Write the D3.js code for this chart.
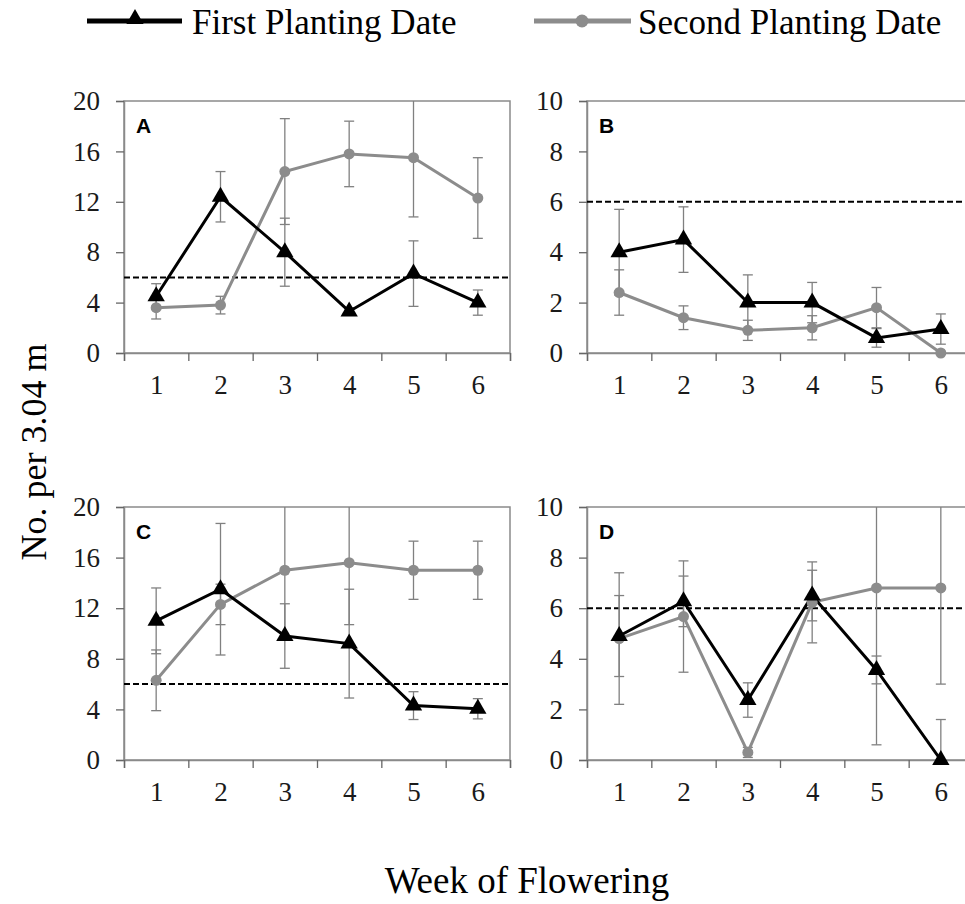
<!DOCTYPE html>
<html>
<head>
<meta charset="utf-8">
<script src="https://cdn.jsdelivr.net/npm/d3@7"></script>
<style>
  body { margin: 0; background: #fff; }
  svg { display: block; }
</style>
</head>
<body>
<svg width="965" height="904"></svg>
<script>
// weeks on the x axis
var weeks = [1, 2, 3, 4, 5, 6];

// panel A
var aFirst = [4.5, 12.4, 8.0, 3.3, 6.3, 4.0];
var aFirstErr = [1.0, 2.0, 2.7, 0.3, 2.6, 1.0];
var aSecond = [3.6, 3.8, 14.4, 15.8, 15.5, 12.3];
var aSecondErr = [0.9, 0.7, 4.2, 2.6, 4.7, 3.2];

// panel B
var bFirst = [4.0, 4.5, 2.0, 2.0, 0.6, 0.95];
var bFirstErr = [1.7, 1.3, 1.1, 0.8, 0.37, 0.6];
var bSecond = [2.4, 1.4, 0.9, 1.0, 1.8, 0];
var bSecondErr = [0.9, 0.47, 0.4, 0.48, 0.8, 0];

// panel C
var cFirst = [11.0, 13.5, 9.8, 9.2, 4.3, 4.05];
var cFirstErr = [2.6, 5.2, 2.55, 4.3, 1.1, 0.8];
var cSecond = [6.3, 12.3, 15.0, 15.6, 15.0, 15.0];
var cSecondErr = [2.4, 1.6, 5.5, 4.9, 2.3, 2.3];

// panel D
var dFirst = [4.9, 6.27, 2.37, 6.5, 3.56, 0];
var dFirstErr = [1.6, 1.0, 0.68, 1.0, 0.55, 1.6];
var dSecond = [4.8, 5.67, 0.3, 6.23, 6.8, 6.8];
var dSecondErr = [2.6, 2.2, 0.2, 1.6, 6.2, 3.8];

var yTicksBig = [0, 4, 8, 12, 16, 20];
var yTicksSmall = [0, 2, 4, 6, 8, 10];
var threshold = 6;

var panels = [
  { label: "A", left: 124, top: 101, h: 252, ymax: 20, ticks: yTicksBig, first: aFirst, firstErr: aFirstErr, second: aSecond, secondErr: aSecondErr },
  { label: "B", left: 587, top: 101, h: 252, ymax: 10, ticks: yTicksSmall, first: bFirst, firstErr: bFirstErr, second: bSecond, secondErr: bSecondErr },
  { label: "C", left: 124, top: 507, h: 253, ymax: 20, ticks: yTicksBig, first: cFirst, firstErr: cFirstErr, second: cSecond, secondErr: cSecondErr },
  { label: "D", left: 587, top: 507, h: 253, ymax: 10, ticks: yTicksSmall, first: dFirst, firstErr: dFirstErr, second: dSecond, secondErr: dSecondErr }
];

var svg = d3.select("svg");
var pw = 386;
var serif = "'Liberation Serif', 'Times New Roman', serif";
var grayLine = "#8c8c8c";
var grayErr = "#808080";
var frameCol = "#8a8a8a";

panels.forEach(function (p, pi) {
  var g = svg.append("g").attr("transform", "translate(" + p.left + "," + p.top + ")");

  var x = d3.scaleLinear().domain([0.5, 6.5]).range([0, pw]);
  var y = d3.scaleLinear().domain([0, p.ymax]).range([p.h, 0]);

  // clip
  g.append("clipPath").attr("id", "clip" + pi)
    .append("rect").attr("width", pw).attr("height", p.h);

  // frame
  g.append("rect")
    .attr("width", pw).attr("height", p.h)
    .attr("fill", "none").attr("stroke", frameCol).attr("stroke-width", 1.5);

  // y axis
  var yAxis = g.append("g")
    .call(d3.axisLeft(y).tickValues(p.ticks).tickSize(8).tickPadding(16).tickFormat(d3.format("d")));
  yAxis.select(".domain").attr("stroke", frameCol).attr("stroke-width", 1.5);
  yAxis.selectAll(".tick line").attr("stroke", "#666").attr("stroke-width", 1.3);
  yAxis.selectAll("text").attr("font-family", serif).attr("font-size", 27).attr("fill", "#1a1a1a");

  // x ticks at band edges
  var xTicks = g.append("g").attr("transform", "translate(0," + p.h + ")")
    .call(d3.axisBottom(x).tickValues(d3.range(0.5, 7, 1)).tickSize(8).tickFormat(""));
  xTicks.select(".domain").attr("stroke", frameCol).attr("stroke-width", 1.5);
  xTicks.selectAll(".tick line").attr("stroke", "#666").attr("stroke-width", 1.3);

  // x labels
  var xLab = g.append("g").attr("transform", "translate(0," + p.h + ")")
    .call(d3.axisBottom(x).tickValues(weeks).tickSize(0).tickPadding(22).tickFormat(d3.format("d")));
  xLab.select(".domain").remove();
  xLab.selectAll("text").attr("font-family", serif).attr("font-size", 27).attr("fill", "#1a1a1a");

  var plot = g.append("g").attr("clip-path", "url(#clip" + pi + ")");

  // threshold line
  plot.append("line")
    .attr("x1", 0).attr("x2", pw)
    .attr("y1", y(threshold)).attr("y2", y(threshold))
    .attr("stroke", "#000").attr("stroke-width", 2)
    .attr("stroke-dasharray", "6,3");

  // error bars
  function errBars(vals, errs) {
    weeks.forEach(function (w, i) {
      if (!errs[i]) return;
      var cx = x(w);
      var lo = y(vals[i] - errs[i]), hi = y(vals[i] + errs[i]);
      plot.append("line").attr("x1", cx).attr("x2", cx).attr("y1", lo).attr("y2", hi)
        .attr("stroke", grayErr).attr("stroke-width", 1.3);
      [lo, hi].forEach(function (yy) {
        plot.append("line").attr("x1", cx - 5).attr("x2", cx + 5).attr("y1", yy).attr("y2", yy)
          .attr("stroke", grayErr).attr("stroke-width", 1.3);
      });
    });
  }
  errBars(p.second, p.secondErr);
  errBars(p.first, p.firstErr);

  var line = d3.line().x(function (d, i) { return x(weeks[i]); }).y(function (d) { return y(d); });

  // second planting date
  plot.append("path").datum(p.second)
    .attr("d", line).attr("fill", "none").attr("stroke", grayLine).attr("stroke-width", 3);
  g.selectAll(".dot2").data(p.second).enter().append("circle")
    .attr("cx", function (d, i) { return x(weeks[i]); })
    .attr("cy", function (d) { return y(d); })
    .attr("r", 5.5).attr("fill", grayLine);

  // first planting date
  plot.append("path").datum(p.first)
    .attr("d", line).attr("fill", "none").attr("stroke", "#000").attr("stroke-width", 3);
  g.selectAll(".tri").data(p.first).enter().append("path")
    .attr("d", d3.symbol().type(d3.symbolTriangle).size(130))
    .attr("transform", function (d, i) { return "translate(" + x(weeks[i]) + "," + y(d) + ")"; })
    .attr("fill", "#000");

  // panel letter
  g.append("text").attr("x", 12).attr("y", 32)
    .attr("font-family", "'Liberation Sans', Arial, sans-serif")
    .attr("font-weight", "bold").attr("font-size", 21)
    .text(p.label);
});

// legend
var leg = svg.append("g");
leg.append("line").attr("x1", 87).attr("x2", 182).attr("y1", 21).attr("y2", 21)
  .attr("stroke", "#000").attr("stroke-width", 5);
leg.append("path").attr("d", d3.symbol().type(d3.symbolTriangle).size(130))
  .attr("transform", "translate(135,19)").attr("fill", "#000");
leg.append("text").attr("x", 192).attr("y", 34)
  .attr("font-family", serif).attr("font-size", 35).text("First Planting Date");

leg.append("line").attr("x1", 534).attr("x2", 631).attr("y1", 21).attr("y2", 21)
  .attr("stroke", grayLine).attr("stroke-width", 5);
leg.append("circle").attr("cx", 582).attr("cy", 21).attr("r", 6.5).attr("fill", grayLine);
leg.append("text").attr("x", 638).attr("y", 34)
  .attr("font-family", serif).attr("font-size", 35).text("Second Planting Date");

// axis titles
svg.append("text")
  .attr("transform", "translate(46,452) rotate(-90)")
  .attr("text-anchor", "middle")
  .attr("font-family", serif).attr("font-size", 36)
  .text("No. per 3.04 m");

svg.append("text")
  .attr("x", 527).attr("y", 893)
  .attr("text-anchor", "middle")
  .attr("font-family", serif).attr("font-size", 37)
  .text("Week of Flowering");
</script>
</body>
</html>
